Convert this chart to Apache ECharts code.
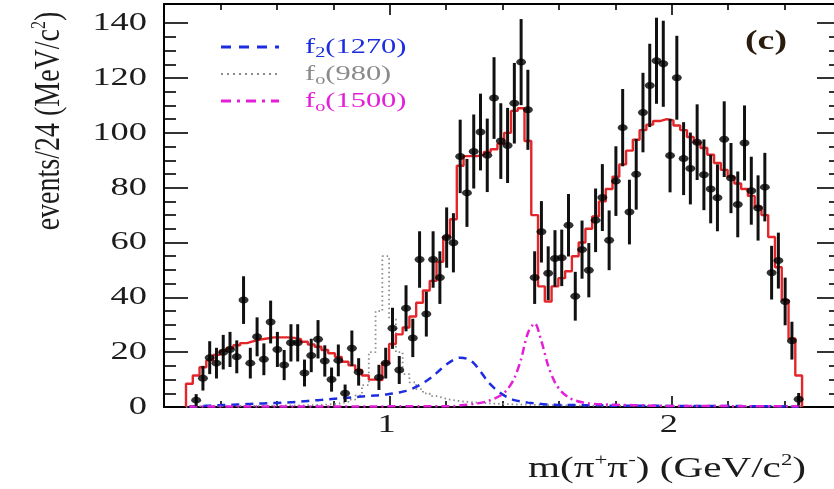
<!DOCTYPE html>
<html>
<head>
<meta charset="utf-8">
<script src="https://cdn.jsdelivr.net/npm/echarts@6/dist/echarts.min.js"></script>
<style>
  html, body { margin: 0; padding: 0; background: #fff; }
  #chart { width: 834px; height: 489px; }
</style>
</head>
<body>
<div id="chart"></div>
<script>
// pi+ pi- invariant mass spectrum, 24 MeV bins starting near threshold
const BIN_WIDTH = 0.024;   // GeV
const FIRST_EDGE = 0.278;  // GeV, lower edge of the first bin

// observed events per bin (null = no entry drawn)
const counts = [
  null, 2.5, 10.5, 18, 16, 20, 21, 18.3, 39, 16,
  25.6, 17.4, 31, 21, 15.3, 23.4, 23.4, 12.4, 18.8, 24.7,
  16.8, 10, 17, 5, 21.4, 12.8, null, null, 10.8, 16,
  28.7, 13.5, 36, 25.2, 53.8, 33.9, 53.8, 47.2, 61.8, 59.9,
  91.4, 78.1, 93.2, 100.3, 91.8, 112.7, 97, 95.4, 110.8, 125.8,
  108.4, 47.2, 63.9, 48.8, 54.2, 54.4, 66.3, 40.4, 57.4, 49.9,
  68.1, 76.4, 60.8, 82.4, 101.9, 71.1, 84.9, 107.4, 117.3, 126.3,
  125.2, 91.7, 120.1, 90.6, 87, 96.6, 84.7, 79.5, 76.3, 97.7,
  83.5, 73.9, 96.3, 78.9, 72.6, 80.2, 49, 53.4, 38.5, 24.2,
  2.8
];

// half-length of each error bar
const countErrors = [
  null, 2.2, 4.5, 6, 5.6, 6.3, 6.4, 6, 8.7, 5.6,
  7.1, 5.8, 7.8, 6.4, 5.5, 6.8, 6.8, 4.9, 6.1, 7,
  5.7, 4.4, 5.8, 3.2, 6.5, 5, null, null, 4.6, 5.6,
  7.5, 5.1, 8.4, 7, 10.3, 8.2, 10.3, 9.6, 11, 10.8,
  13.4, 12.4, 13.5, 14, 13.4, 14.9, 13.8, 13.7, 14.7, 15.7,
  14.6, 9.6, 11.2, 9.8, 10.3, 10.3, 11.4, 8.9, 10.6, 9.9,
  11.6, 12.2, 10.9, 12.7, 14.1, 11.8, 12.9, 14.5, 15.2, 15.7,
  15.7, 13.4, 15.3, 13.3, 13.1, 13.8, 12.9, 12.5, 12.2, 13.8,
  12.8, 12, 13.7, 12.4, 11.9, 12.5, 9.8, 10.2, 8.7, 6.9,
  2.3
];

// total fit, per bin
const fitTotal = [
  8.5, 11.5, 14.5, 17, 19, 20.5, 21.5, 22.5, 23.3, 24,
  24.6, 25, 25.4, 25.4, 25.4, 25.2, 24.7, 23.8, 22.8, 22,
  20.8, 19.6, 18.3, 16.5, 15.2, 13.5, 11.5, 10, 9.8, 16,
  23, 26.5, 29, 33, 38, 42.5, 46, 53, 62, 68.5,
  88, 91.5, 91.5, 92, 93, 94, 96, 100, 108, 109,
  97, 70, 44, 38.5, 44, 47, 49.5, 55, 60, 65,
  69.5, 75, 79.5, 84, 88.5, 93.5, 97.5, 101, 103, 104.3,
  105, 104.5, 102.7, 101, 98.5, 96.5, 94.5, 92, 89, 86.5,
  84, 81.5, 79.5, 77, 73, 70, 62, 51, 39, 25,
  11.5
];

// f0(980) component, per bin
const f0_980 = [
  0.3, 0.3, 0.3, 0.3, 0.3, 0.3, 0.4, 0.4, 0.4, 0.4,
  0.4, 0.5, 0.5, 0.5, 0.6, 0.6, 0.6, 0.7, 0.7, 0.8,
  0.9, 1.1, 1.4, 1.9, 2.7, 4.2, 8, 20, 35, 55,
  32, 20, 12, 9, 6.5, 5, 4, 3.3, 2.7, 2.3,
  2, 1.8, 1.6, 1.4, 1.3, 1.2, 1.1, 1, 0.9, 0.9,
  0.8, 0.8, 0.7, 0.7, 0.6, 0.6, 0.6, 0.5, 0.5, 0.5,
  0.5, 0.4, 0.4, 0.4, 0.4, 0.4, 0.4, 0.4, 0.4, 0.4,
  0.3, 0.3, 0.3, 0.3, 0.3, 0.3, 0.3, 0.3, 0.3, 0.3,
  0.2, 0.2, 0.2, 0.2, 0.2, 0.2, 0.2, 0.2, 0.2, 0.2,
  0.2
];

// f2(1270) component, per bin
const f2_1270 = [
  0.2, 0.3, 0.4, 0.5, 0.6, 0.7, 0.8, 0.9, 1.0, 1.1,
  1.2, 1.3, 1.4, 1.5, 1.6, 1.7, 1.9, 2.1, 2.3, 2.5,
  2.7, 2.9, 3.1, 3.3, 3.5, 3.7, 3.9, 4.1, 4.3, 4.6,
  4.9, 5.3, 5.9, 6.8, 8.0, 9.5, 11.3, 13.5, 15.6, 17.2,
  18.0, 17.6, 16, 13, 9.5, 7, 5, 3.5, 2.5, 2,
  1.6, 1.3, 1.1, 0.9, 0.8, 0.7, 0.7, 0.7, 0.6, 0.6,
  0.6, 0.6, 0.5, 0.5, 0.5, 0.5, 0.5, 0.5, 0.5, 0.5,
  0.4, 0.4, 0.4, 0.4, 0.4, 0.4, 0.4, 0.4, 0.4, 0.4,
  0.4, 0.4, 0.3, 0.3, 0.3, 0.3, 0.3, 0.3, 0.2, 0.2,
  0.1
];

// f0(1500) component, per bin
const f0_1500 = [
  0.2, 0.2, 0.2, 0.2, 0.2, 0.2, 0.2, 0.2, 0.2, 0.2,
  0.2, 0.2, 0.2, 0.2, 0.2, 0.2, 0.2, 0.2, 0.2, 0.2,
  0.2, 0.2, 0.2, 0.2, 0.2, 0.2, 0.2, 0.2, 0.2, 0.2,
  0.3, 0.3, 0.3, 0.3, 0.3, 0.3, 0.3, 0.3, 0.3, 0.3,
  0.6, 0.8, 1.1, 1.5, 2.1, 3, 4.3, 6.5, 10.5, 17.5,
  27, 30.5, 24, 15, 9, 5.5, 3.5, 2.4, 1.7, 1.3,
  1.1, 1, 0.9, 0.8, 0.7, 0.7, 0.6, 0.6, 0.5, 0.5,
  0.4, 0.4, 0.4, 0.4, 0.4, 0.4, 0.4, 0.4, 0.4, 0.4,
  0.3, 0.3, 0.3, 0.3, 0.3, 0.3, 0.3, 0.3, 0.3, 0.3,
  0.3
];

const xMajorTicks = [1, 2];
const xMinorTicks = [0.2, 0.4, 0.6, 0.8, 1.2, 1.4, 1.6, 1.8, 2.2, 2.4, 2.6];
const yMajorTicks = [0, 20, 40, 60, 80, 100, 120, 140];
const yMinorTicks = [5, 10, 15, 25, 30, 35, 45, 50, 55, 65, 70, 75, 85, 90, 95, 105, 110, 115, 125, 130, 135];

const legendEntries = [
  { base: 'f', sub: '2', rest: '(1270)', color: '#1c2ce0', dash: [10, 8], width: 3 },
  { base: 'f', sub: 'o', rest: '(980)', color: '#8a8a8a', dash: [2, 4], width: 2 },
  { base: 'f', sub: 'o', rest: '(1500)', color: '#e41fd8', dash: [10, 6, 3, 6], width: 3 }
];

// ---- derived series data ----
const edge = i => FIRST_EDGE + BIN_WIDTH * i;
const center = i => FIRST_EDGE + BIN_WIDTH * (i + 0.5);

function histogramPoints(values) {
  const pts = [[edge(0), 0]];
  values.forEach((v, i) => pts.push([edge(i), v]));
  pts.push([edge(values.length), 0]);
  return pts;
}

const pointData = [];
const errorData = [];
counts.forEach((v, i) => {
  if (v === null) return;
  pointData.push([center(i), v]);
  errorData.push([center(i), Math.max(0, v - countErrors[i]), v + countErrors[i]]);
});

const curve = values => values.map((v, i) => [center(i), v]);

const X_MIN = 0.2, X_MAX = 2.6, Y_MIN = 0, Y_MAX = 147;
const SERIF = '"Liberation Serif", "Times New Roman", serif';

function xAxisDef(position, ticks, len, showLine) {
  return {
    type: 'value', position, min: X_MIN, max: X_MAX,
    axisLine: { show: showLine, onZero: false, lineStyle: { color: '#000', width: 2 } },
    axisTick: { show: true, inside: true, length: len, customValues: ticks, lineStyle: { color: '#000', width: 1.6 } },
    axisLabel: { show: false },
    splitLine: { show: false }
  };
}
function yAxisDef(position, ticks, len, showLine) {
  return {
    type: 'value', position, min: Y_MIN, max: Y_MAX,
    axisLine: { show: showLine, onZero: false, lineStyle: { color: '#000', width: 2 } },
    axisTick: { show: true, inside: true, length: len, customValues: ticks, lineStyle: { color: '#000', width: 1.6 } },
    axisLabel: { show: false },
    splitLine: { show: false }
  };
}

const chart = echarts.init(document.getElementById('chart'));

const option = {
  animation: false,
  backgroundColor: '#fff',
  grid: { left: 164, right: -7, top: 4, bottom: 82, containLabel: false, outerBoundsMode: 'none' },
  xAxis: [
    xAxisDef('bottom', xMajorTicks, 11, true),
    xAxisDef('bottom', xMinorTicks, 6, false),
    xAxisDef('top', xMajorTicks, 11, true),
    xAxisDef('top', xMinorTicks, 6, false)
  ],
  yAxis: [
    yAxisDef('left', yMajorTicks, 24, true),
    yAxisDef('left', yMinorTicks, 12, false),
    yAxisDef('right', yMajorTicks, 24, true),
    yAxisDef('right', yMinorTicks, 12, false)
  ],
  series: [
    {
      name: 'f0(980)', type: 'line', step: 'end', data: histogramPoints(f0_980),
      showSymbol: false, symbol: 'none', z: 2,
      lineStyle: { color: '#8a8a8a', width: 1.8, type: [1.5, 3] }
    },
    {
      name: 'f2(1270)', type: 'line', data: curve(f2_1270), smooth: 0.3,
      showSymbol: false, symbol: 'none', z: 2,
      lineStyle: { color: '#1c2ce0', width: 2.5, type: [8, 6] }
    },
    {
      name: 'f0(1500)', type: 'line', data: curve(f0_1500), smooth: 0.3,
      showSymbol: false, symbol: 'none', z: 2,
      lineStyle: { color: '#e41fd8', width: 2.5, type: [8, 4, 2, 4] }
    },
    {
      name: 'fit', type: 'line', step: 'end', data: histogramPoints(fitTotal),
      showSymbol: false, symbol: 'none', z: 3,
      lineStyle: { color: '#e4262b', width: 2.4 }
    },
    {
      name: 'errors', type: 'custom', data: errorData, z: 4,
      encode: { x: 0, y: [1, 2] },
      renderItem(params, api) {
        const x = api.value(0);
        const a = api.coord([x, api.value(1)]);
        const b = api.coord([x, api.value(2)]);
        return {
          type: 'line',
          shape: { x1: a[0], y1: a[1], x2: b[0], y2: b[1] },
          style: { stroke: '#111', lineWidth: 3 }
        };
      }
    },
    {
      name: 'data', type: 'scatter', data: pointData, z: 5,
      symbol: 'circle', symbolSize: [10, 7],
      itemStyle: { color: '#000' }
    }
  ]
};

chart.setOption(option);

// tick labels, axis titles, legend and panel tag
const STRETCH = 1.4;
const graphics = [];

yMajorTicks.forEach(v => {
  const py = chart.convertToPixel({ yAxisIndex: 0 }, v);
  graphics.push({
    type: 'text', x: 147, y: py, scaleX: STRETCH,
    style: { text: String(v), fontFamily: SERIF, fontSize: 26, fill: '#1c1c1c',
             align: 'right', verticalAlign: 'middle', textAlign: 'right', textVerticalAlign: 'middle' }
  });
});
xMajorTicks.forEach(v => {
  const px = chart.convertToPixel({ xAxisIndex: 0 }, v);
  graphics.push({
    type: 'text', x: px - 3, y: 412, scaleX: STRETCH,
    style: { text: String(v), fontFamily: SERIF, fontSize: 26, fill: '#1c1c1c',
             align: 'center', verticalAlign: 'top', textAlign: 'center', textVerticalAlign: 'top' }
  });
});

// x-axis title
graphics.push({
  type: 'text', x: 528, y: 469, scaleX: 1.42,
  style: {
    text: '{a|m(π}{p|+}{a|π}{p|-}{a|) (GeV/c}{p|2}{a|)}',
    align: 'left', verticalAlign: 'middle', textAlign: 'left', textVerticalAlign: 'middle',
    rich: {
      a: { fontFamily: SERIF, fontSize: 29, fill: '#1c1c1c', lineHeight: 32 },
      p: { fontFamily: SERIF, fontSize: 16, fill: '#1c1c1c', lineHeight: 16, verticalAlign: 'top' }
    }
  }
});

// y-axis title (reads bottom to top)
graphics.push({
  type: 'text', x: 49, y: 121, rotation: Math.PI / 2, scaleY: 1.3,
  style: {
    text: '{a|events/24 (MeV/c}{p|2}{a|)}',
    align: 'center', verticalAlign: 'middle', textAlign: 'center', textVerticalAlign: 'middle',
    rich: {
      a: { fontFamily: SERIF, fontSize: 28, fill: '#1c1c1c', lineHeight: 30 },
      p: { fontFamily: SERIF, fontSize: 16, fill: '#1c1c1c', lineHeight: 16, verticalAlign: 'top' }
    }
  }
});

// panel tag
graphics.push({
  type: 'text', x: 766, y: 42, scaleX: 1.4,
  style: { text: '(c)', fontFamily: SERIF, fontSize: 27, fontWeight: 'bold', fill: '#2a1c0c',
           align: 'center', verticalAlign: 'middle', textAlign: 'center', textVerticalAlign: 'middle' }
});

// legend
legendEntries.forEach((e, k) => {
  const y = 47 + 27 * k;
  graphics.push({
    type: 'line', shape: { x1: 221, y1: y, x2: 279, y2: y },
    style: { stroke: e.color, lineWidth: e.width, lineDash: e.dash }
  });
  graphics.push({
    type: 'text', x: 305, y: y, scaleX: 1.45,
    style: {
      text: '{a|' + e.base + '}{s|' + e.sub + '}{a|' + e.rest + '}',
      align: 'left', verticalAlign: 'middle', textAlign: 'left', textVerticalAlign: 'middle',
      rich: {
        a: { fontFamily: SERIF, fontSize: 21, fill: e.color, lineHeight: 26 },
        s: { fontFamily: SERIF, fontSize: 14, fill: e.color, lineHeight: 14, verticalAlign: 'bottom' }
      }
    }
  });
});

chart.setOption({ graphic: graphics });
</script>
</body>
</html>
